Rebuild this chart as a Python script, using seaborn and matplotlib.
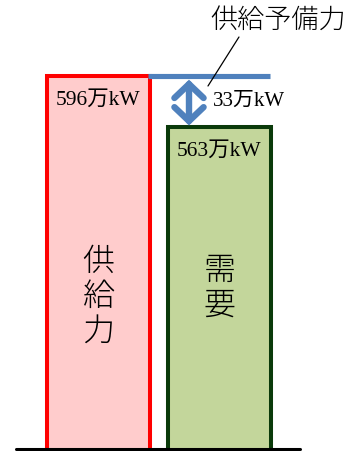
import matplotlib
matplotlib.use("Agg")
import matplotlib.pyplot as plt
import seaborn as sns
import pandas as pd

# 供給力と需要（万kW）
categories = ["供給力", "需要"]
values = [596, 563]
value_labels = ["596万kW", "563万kW"]
reserve_label = "33万kW"
reserve_title = "供給予備力"

fill_colors = ["#FFCCCC", "#C3D69B"]
edge_colors = ["#FF0000", "#0A3A0A"]
blue = "#4F81BD"

sns.set_theme(style="white")
plt.rcParams["font.family"] = ["Liberation Serif", "Noto Sans CJK JP", "DejaVu Sans"]

df = pd.DataFrame({"区分": categories, "値": values})

fig = plt.figure(figsize=(3.59, 4.51), dpi=100)
ax = fig.add_axes([0, 0, 1, 1])

sns.barplot(data=df, x="区分", y="値", hue="区分", palette=fill_colors,
            saturation=1, width=0.85, legend=False, ax=ax)
for patch, ec in zip(ax.patches, edge_colors):
    patch.set_edgecolor(ec)
    patch.set_linewidth(2.9)
    patch.set_joinstyle("miter")

ax.set_xlim(-0.814, 2.153)
ax.set_ylim(352.0, 645.7)
ax.set_axis_off()

# 地面線
ax.axhline(353.0, xmin=0.045, xmax=0.836, color="black", lw=2.2, clip_on=False)

supply, demand = values
reserve = supply - demand

# 供給力の水準線
ax.plot([0.41, 1.417], [supply, supply], color=blue, lw=3.7, solid_capstyle="butt")

# 予備力の両矢印
arrow_x = 0.748
ax.annotate("", xy=(arrow_x, demand + 1.0), xytext=(arrow_x, supply - 2.2),
            arrowprops=dict(arrowstyle="<->,head_length=1.0,head_width=1.05",
                            mutation_scale=10,
                            color=blue, lw=4.6, shrinkA=0, shrinkB=0,
                            joinstyle="miter", capstyle="round"))
ax.annotate(reserve_label, xy=(arrow_x, demand + reserve / 2),
            xytext=(17, 0), textcoords="offset points",
            ha="left", va="center", fontsize=15, color="black")

# 棒上の値ラベル
for i, (v, lab) in enumerate(zip(values, value_labels)):
    ax.annotate(lab, xy=(i, v), xytext=(0, -17.5), textcoords="offset points",
                ha="center", va="center", fontsize=15.5, color="black")

# 棒内の縦書きラベル
char_step = 25.0  # points
label_mid = [0.339, 0.358]
for i, name in enumerate(categories):
    n = len(name)
    for j, ch in enumerate(name):
        off = ((n - 1) / 2 - j) * char_step
        ax.annotate(ch, xy=(i, label_mid[i]), xycoords=("data", "axes fraction"),
                    xytext=(0, off), textcoords="offset points",
                    ha="center", va="center", fontsize=23, color="black",
                    fontweight="light")

# 供給予備力の引き出し線と見出し
ax.plot([1.161, 0.905], [621.6, 589.7], color="black", lw=0.9)
ax.text(1.488, 632.0, reserve_title, ha="center", va="center",
        fontsize=19.5, color="black", fontweight="light")

fig.savefig("out.png", dpi=100)
